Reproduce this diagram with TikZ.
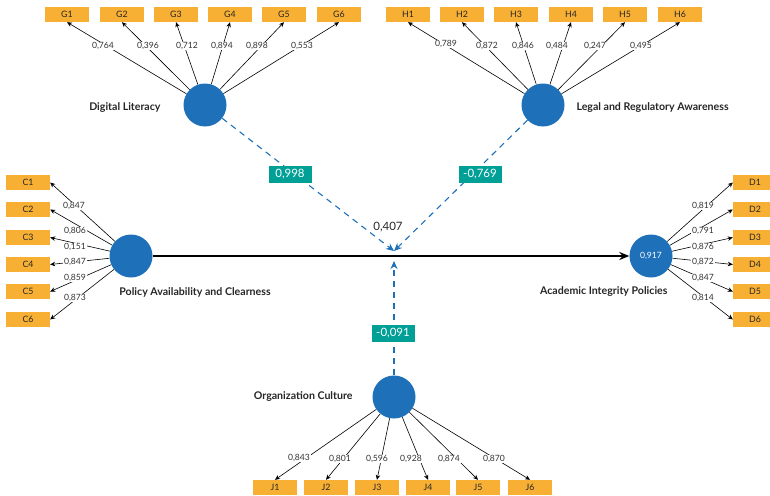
\documentclass[tikz,border=0pt]{standalone}
\usepackage{fontspec}
\setmainfont{Lato}
\usetikzlibrary{arrows.meta}
\definecolor{ind}{RGB}{247,176,52}
\definecolor{lat}{RGB}{30,112,184}
\definecolor{tealbox}{RGB}{0,160,150}
\tikzset{
  x=1pt,y=-1pt,
  indbox/.style={rectangle,fill=ind,minimum width=44pt,minimum height=15pt,inner sep=0pt,font=\fontsize{8.8}{9}\selectfont,text=black!85},
  latc/.style={circle,fill=lat,minimum size=43pt,inner sep=0pt,text=white,font=\fontsize{8.6}{9}\selectfont},
  load/.style={draw=black,line width=0.6pt,-{Stealth[length=5pt,width=4.5pt]}},
  lab/.style={fill=white,inner sep=0.6pt,font=\fontsize{8.6}{9}\selectfont,text=black!80},
  cname/.style={font=\bfseries\fontsize{10.6}{11}\selectfont,text=black!85},
  modline/.style={draw=lat,line width=1.1pt,dash pattern=on 6pt off 5pt,-{Stealth[length=8pt,width=7pt]}},
  tbox/.style={rectangle,fill=tealbox,text=white,minimum width=43pt,minimum height=17pt,inner sep=0pt,font=\fontsize{11.5}{12}\selectfont},
}
\begin{document}
\begin{tikzpicture}
\useasboundingbox (0,0) rectangle (770,495);
% latent variables
\node[latc] (dl) at (205,105) {};
\node[latc] (lr) at (543,105) {};
\node[latc] (pa) at (131,256) {};
\node[latc] (ai) at (651,256) {0,917};
\node[latc] (oc) at (394,397) {};
% construct names
\node[cname,anchor=east] (ndl) at (164,108) {Digital Literacy};
\node[cname,anchor=west] (nlr) at (573,108) {Legal and Regulatory Awareness};
\node[cname] (npa) at (195,292) {Policy Availability and Clearness};
\node[cname,anchor=east] (nai) at (671,292) {Academic Integrity Policies};
\node[cname,anchor=east] (noc) at (356,397) {Organization Culture};
% indicator boxes
\foreach \i/\x in {1/67,2/122,3/176,4/230,5/284,6/339}{\node[indbox] (g\i) at (\x,14.5) {G\i};}
\foreach \i/\x in {1/408,2/462,3/516,4/571,5/625,6/680}{\node[indbox] (h\i) at (\x,14.5) {H\i};}
\foreach \i/\y in {1/182.5,2/209.5,3/237.5,4/264.5,5/291.5,6/319.5}{\node[indbox] (c\i) at (28,\y) {C\i};}
\foreach \i/\y in {1/182.5,2/209.5,3/237.5,4/264.5,5/291.5,6/319.5}{\node[indbox] (d\i) at (755,\y) {D\i};}
\foreach \i/\x in {1/275,2/326,3/377,4/428,5/478,6/530}{\node[indbox] (j\i) at (\x,487.5) {J\i};}
% loadings lines
\foreach \i in {1,...,6}{
  \draw[load] (dl) -- (g\i.south);
  \draw[load] (lr) -- (h\i.south);
  \draw[load] (pa) -- (c\i.east);
  \draw[load] (ai) -- (d\i.west);
  \draw[load] (oc) -- (j\i.north);
}
% loading labels
\node[lab] (lg1) at (103,46) {0,764};
\node[lab] (lg2) at (148,46) {0,396};
\node[lab] (lg3) at (187,46) {0,712};
\node[lab] (lg4) at (222,46) {0,894};
\node[lab] (lg5) at (257,46) {0,898};
\node[lab] (lg6) at (302,46) {0,553};
\node[lab] (lh1) at (446,44) {0,789};
\node[lab] (lh2) at (487,46) {0,872};
\node[lab] (lh3) at (523,46) {0,846};
\node[lab] (lh4) at (557,46) {0,484};
\node[lab] (lh5) at (595,46) {0,247};
\node[lab] (lh6) at (641,46) {0,495};
\node[lab] (lc1) at (74,206) {0,847};
\node[lab] (lc2) at (75,231) {0,806};
\node[lab] (lc3) at (75,247) {0,151};
\node[lab] (lc4) at (75,262) {0,847};
\node[lab] (lc5) at (75,278) {0,859};
\node[lab] (lc6) at (75,298) {0,873};
\node[lab] (ld1) at (703,206) {0,819};
\node[lab] (ld2) at (703,231) {0,791};
\node[lab] (ld3) at (703,247) {0,876};
\node[lab] (ld4) at (703,262) {0,872};
\node[lab] (ld5) at (703,278) {0,847};
\node[lab] (ld6) at (703,298) {0,814};
\node[lab] (lj1) at (299,458) {0,843};
\node[lab] (lj2) at (340,459) {0,801};
\node[lab] (lj3) at (377,459) {0,596};
\node[lab] (lj4) at (411,459) {0,928};
\node[lab] (lj5) at (449,459) {0,874};
\node[lab] (lj6) at (494,459) {0,870};
% structural path
\draw[line width=1.6pt,-{Stealth[length=10pt,width=8pt]}] (pa) -- (ai);
\node[font=\fontsize{11.5}{12}\selectfont,text=black!85] (pv) at (388,227) {0,407};
% moderation
\coordinate (mt) at (394,251);
\coordinate (mb) at (394,261);
\draw[modline] (dl) -- (mt);
\draw[modline] (lr) -- (mt);
\draw[modline] (oc) -- (mb);
\node[tbox] (t1) at (290,174) {0,998};
\node[tbox] (t2) at (480,174) {-0,769};
\node[tbox] (t3) at (393,333) {-0,091};
\end{tikzpicture}
\end{document}
